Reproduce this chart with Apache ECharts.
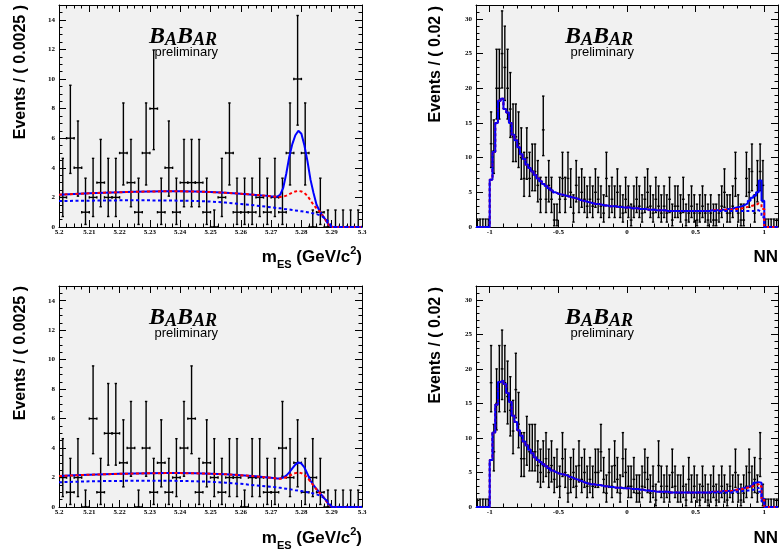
<!DOCTYPE html>
<html><head><meta charset="utf-8">
<script src="https://cdn.jsdelivr.net/npm/echarts@6/dist/echarts.min.js"></script>
<style>html,body{margin:0;padding:0;background:#fff}#c{width:780px;height:554px}</style>
</head><body><div id="c"></div>
<script>
// ================= DATA =================
// m_ES histograms (40 bins of 0.0025 GeV from 5.2)
const mesBinStart = 5.2, mesBinWidth = 0.0025;
const mesCountsTop    = [2,6,4,1,2,3,2,2,5,3,1,5,8,1,4,1,3,3,3,1, 0,2,5,1,1,1,2,1,2,1,5,10,5,0,1,0,0,0,0,0];
const mesCountsBottom = [2,1,2,0,6,1,5,5,3,4,0,4,1,3,1,2,4,6,1,3, 2,1,2,2,0,2,2,1,1,4,2,3,1,2,1,0,0,0,0,0];

// Poisson 68% interval bounds indexed by count
const poissonLow  = [0,0.173,0.708,1.367,2.086,2.840,3.620,4.417,5.228,6.050,6.882,7.724,8.573,9.430,10.29,11.16,12.03,12.91,13.79,14.67,15.56,16.45,17.34,18.24,19.14,20.04,20.94,21.85,22.75,23.66,24.58];
const poissonHigh = [1.148,3.300,4.638,5.918,7.163,8.382,9.577,10.77,11.96,13.12,14.29,15.44,16.59,17.73,18.87,20.00,21.13,22.26,23.38,24.50,25.62,26.73,27.84,28.95,30.05,31.15,32.25,33.35,34.44,35.53,36.62];

// m_ES fit curves (sample positions and read values)
const mesCurveX = [5.200,5.205,5.210,5.215,5.220,5.225,5.230,5.235,5.240,5.245,5.250,5.255,5.260,5.265,5.268,5.270,5.272,5.273,5.274,5.275,5.276,5.277,5.278,5.279,5.280,5.281,5.282,5.283,5.284,5.285,5.286,5.287,5.288,5.289,5.290,5.295,5.300];
const mesTotalTop = [2.18,2.23,2.28,2.32,2.35,2.38,2.40,2.41,2.41,2.40,2.36,2.31,2.25,2.17,2.12,2.08,2.05,2.18,2.65,3.60,4.75,5.60,6.20,6.50,6.30,5.50,4.45,3.20,2.30,1.50,1.08,0.78,0.48,0.15,0,0,0];
const mesBkgTop   = [2.18,2.23,2.28,2.32,2.35,2.38,2.40,2.41,2.41,2.40,2.36,2.31,2.25,2.17,2.12,2.08,2.03,2.03,2.05,2.12,2.22,2.32,2.40,2.44,2.40,2.30,2.10,1.80,1.50,1.25,1.05,0.78,0.48,0.15,0,0,0];
const mesContTop  = [1.75,1.77,1.78,1.79,1.80,1.80,1.80,1.79,1.78,1.76,1.72,1.65,1.56,1.45,1.38,1.33,1.28,1.26,1.23,1.20,1.18,1.15,1.12,1.09,1.06,1.03,1.00,0.96,0.92,0.87,0.80,0.70,0.55,0.35,0,0,0];
const mesTotalBottom = [2.10,2.15,2.19,2.22,2.25,2.27,2.29,2.30,2.30,2.29,2.26,2.22,2.16,2.08,2.02,1.98,1.93,1.93,2.00,2.13,2.35,2.62,2.88,3.03,2.95,2.68,2.25,1.80,1.48,1.22,0.98,0.74,0.48,0.18,0,0,0];
const mesBkgBottom   = [2.10,2.15,2.19,2.22,2.25,2.27,2.29,2.30,2.30,2.29,2.26,2.22,2.16,2.08,2.02,1.98,1.93,1.92,1.95,2.02,2.12,2.22,2.30,2.34,2.30,2.18,1.98,1.72,1.45,1.20,0.97,0.74,0.48,0.18,0,0,0];
const mesContBottom  = [1.68,1.71,1.74,1.76,1.77,1.78,1.78,1.78,1.77,1.75,1.71,1.65,1.57,1.47,1.41,1.37,1.33,1.30,1.27,1.24,1.21,1.18,1.14,1.11,1.08,1.04,1.00,0.96,0.92,0.86,0.78,0.68,0.52,0.32,0,0,0];

// NN histograms (110 bins of 0.02 from -1.1)
const nnBinStart = -1.1, nnBinWidth = 0.02;
const nnCountsTop = [0,0,0,0,0,
 12,11,20,20,25,23,20,17,13,13, 12,10,7,10,7,8,8,6,4,14,
 4,6,4,1,1,4,7,4,7,5, 2,6,4,5,4,3,4,3,5,4,
 3,2,7,3,4,3,5,3,2,4, 3,1,3,4,3,2,4,5,3,2,
 4,3,2,3,2,4,1,3,3,2, 4,1,2,3,2,1,2,3,2,1,
 2,1,1,2,3,5,2,2,3,7, 2,1,1,7,5,8,2,6,8,6,
 0,0,0,0,0];
const nnCountsBottom = [0,0,0,0,0,
 18,8,15,18,20,18,16,14,11,17, 12,7,7,9,8,8,8,6,5,6,
 7,5,6,4,5,3,7,5,2,4, 5,3,6,4,5,3,4,3,5,5,
 8,4,2,5,3,6,4,2,7,5, 3,3,4,2,2,3,5,4,2,3,
 1,6,3,2,3,2,5,3,2,2, 3,1,4,2,3,2,1,3,2,1,
 2,3,1,2,3,2,1,3,2,5, 2,1,2,3,5,3,4,2,7,1,
 0,0,0,0,0];

// NN fit projections (per bin)
const nnTotalTop = [0,0,0,0,0,
 6.8,10.8,15.0,18.2,18.5,17.0,16.5,15.0,13.3,12.5, 11.5,10.5,9.8,9.0,8.5,8.0,7.5,7.0,6.6,6.2,
 5.9,5.6,5.3,5.0,4.8,4.7,4.6,4.5,4.4,4.3, 4.2,4.1,3.9,3.8,3.7,3.6,3.5,3.4,3.3,3.3,
 3.2,3.1,3.1,3.0,3.0,3.0,2.9,2.9,2.8,2.8, 2.8,2.7,2.7,2.7,2.6,2.6,2.6,2.5,2.5,2.5,
 2.4,2.4,2.4,2.4,2.3,2.3,2.3,2.3,2.3,2.3, 2.3,2.3,2.3,2.3,2.3,2.3,2.3,2.3,2.3,2.3,
 2.4,2.4,2.4,2.4,2.5,2.5,2.6,2.6,2.7,2.8, 2.9,3.0,3.2,3.4,3.8,4.2,4.5,5.0,6.7,3.8,
 0,0,0,0,0];
const nnBkgTop = [0,0,0,0,0,
 6.8,10.8,15.0,18.2,18.5,17.0,16.5,15.0,13.3,12.5, 11.5,10.5,9.8,9.0,8.5,8.0,7.5,7.0,6.6,6.2,
 5.9,5.6,5.3,5.0,4.8,4.7,4.6,4.5,4.4,4.3, 4.2,4.1,3.9,3.8,3.7,3.6,3.5,3.4,3.3,3.3,
 3.2,3.1,3.1,3.0,3.0,3.0,2.9,2.9,2.8,2.8, 2.8,2.7,2.7,2.7,2.6,2.6,2.6,2.5,2.5,2.5,
 2.4,2.4,2.4,2.4,2.3,2.3,2.3,2.3,2.3,2.3, 2.3,2.3,2.3,2.3,2.3,2.3,2.3,2.3,2.3,2.3,
 2.4,2.4,2.4,2.4,2.5,2.5,2.5,2.5,2.6,2.6, 2.6,2.7,2.8,2.9,3.0,3.1,3.2,3.4,3.3,2.6,
 0,0,0,0,0];
const nnContTop = [0,0,0,0,0,
 6.8,10.8,15.0,18.2,18.5,17.0,16.5,15.0,13.3,12.5, 11.5,10.5,9.8,9.0,8.5,8.0,7.5,7.0,6.6,6.2,
 5.9,5.6,5.3,5.0,4.8,4.7,4.6,4.5,4.4,4.3, 4.2,4.1,3.9,3.8,3.7,3.6,3.5,3.4,3.3,3.3,
 3.2,3.1,3.1,3.0,3.0,3.0,2.9,2.9,2.8,2.8, 2.8,2.7,2.7,2.7,2.6,2.6,2.6,2.5,2.5,2.5,
 2.4,2.4,2.4,2.4,2.3,2.3,2.3,2.3,2.3,2.3, 2.3,2.3,2.3,2.3,2.3,2.3,2.3,2.3,2.3,2.3,
 2.3,2.3,2.3,2.3,2.3,2.3,2.3,2.3,2.3,2.3, 2.3,2.3,2.3,2.3,2.3,2.3,2.4,2.4,2.2,1.4,
 0,0,0,0,0];
const nnTotalBottom = [0,0,0,0,0,
 6.8,10.8,14.8,18.1,18.3,17.8,16.5,15.2,13.2,12.3, 11.1,10.3,9.5,8.9,8.3,7.8,7.2,6.8,6.5,6.2,
 5.9,5.6,5.3,5.1,4.9,4.8,4.7,4.6,4.4,4.3, 4.1,4.0,3.8,3.7,3.5,3.4,3.3,3.3,3.2,3.2,
 3.1,3.0,3.0,2.9,2.9,2.8,2.8,2.8,2.7,2.7, 2.7,2.6,2.6,2.6,2.5,2.5,2.4,2.4,2.3,2.3,
 2.2,2.2,2.2,2.2,2.2,2.1,2.1,2.1,2.1,2.1, 2.1,2.1,2.1,2.1,2.1,2.1,2.1,2.1,2.1,2.1,
 2.2,2.2,2.2,2.2,2.3,2.3,2.3,2.3,2.4,2.5, 2.6,2.7,2.8,2.9,3.0,3.2,3.5,3.6,3.5,1.2,
 0,0,0,0,0];
const nnBkgBottom = [0,0,0,0,0,
 6.8,10.8,14.8,18.1,18.3,17.8,16.5,15.2,13.2,12.3, 11.1,10.3,9.5,8.9,8.3,7.8,7.2,6.8,6.5,6.2,
 5.9,5.6,5.3,5.1,4.9,4.8,4.7,4.6,4.4,4.3, 4.1,4.0,3.8,3.7,3.5,3.4,3.3,3.3,3.2,3.2,
 3.1,3.0,3.0,2.9,2.9,2.8,2.8,2.8,2.7,2.7, 2.7,2.6,2.6,2.6,2.5,2.5,2.4,2.4,2.3,2.3,
 2.2,2.2,2.2,2.2,2.2,2.1,2.1,2.1,2.1,2.1, 2.1,2.1,2.1,2.1,2.1,2.1,2.1,2.1,2.1,2.1,
 2.2,2.2,2.2,2.2,2.3,2.3,2.3,2.3,2.4,2.5, 2.5,2.6,2.7,2.8,2.9,3.0,3.2,3.3,3.0,1.0,
 0,0,0,0,0];
const nnContBottom = [0,0,0,0,0,
 6.8,10.8,14.8,18.1,18.3,17.8,16.5,15.2,13.2,12.3, 11.1,10.3,9.5,8.9,8.3,7.8,7.2,6.8,6.5,6.2,
 5.9,5.6,5.3,5.1,4.9,4.8,4.7,4.6,4.4,4.3, 4.1,4.0,3.8,3.7,3.5,3.4,3.3,3.3,3.2,3.2,
 3.1,3.0,3.0,2.9,2.9,2.8,2.8,2.8,2.7,2.7, 2.7,2.6,2.6,2.6,2.5,2.5,2.4,2.4,2.3,2.3,
 2.2,2.2,2.2,2.2,2.2,2.1,2.1,2.1,2.1,2.1, 2.1,2.1,2.1,2.1,2.1,2.1,2.1,2.1,2.1,2.1,
 2.1,2.1,2.1,2.1,2.1,2.1,2.1,2.1,2.2,2.2, 2.2,2.3,2.3,2.4,2.4,2.5,2.6,2.8,2.2,0.8,
 0,0,0,0,0];

// tick labels
const mesXTicks = [5.2,5.21,5.22,5.23,5.24,5.25,5.26,5.27,5.28,5.29,5.3];
const mesYTicks = [0,2,4,6,8,10,12,14];
const nnXTicks = [-1,-0.5,0,0.5,1];
const nnYTicks = [0,5,10,15,20,25,30];

// ================= BUILD =================
const W = 780;
function steps(lo, hi, step) { const a = []; const n = Math.round((hi - lo) / step); for (let i = 0; i <= n; i++) a.push(+(lo + i * step).toFixed(6)); return a; }
const mesXMinor = steps(5.2, 5.3, 0.0025);
const mesYMinor = steps(0, 15, 0.5);
const nnXMinor = steps(-1.1, 1.1, 0.1);
const nnYMinor = steps(0, 32, 1);

const grids = [
  {left: 59, top: 5, width: 303, height: 222},
  {left: 476, top: 5, width: 302, height: 222},
  {left: 59, top: 286, width: 303, height: 221},
  {left: 476, top: 286, width: 302, height: 221}
];
const xAxes = [], yAxes = [];
const labelFont = {fontFamily: '"Liberation Serif"', fontWeight: 'bold', fontSize: 7, color: '#000'};
function fmt(v) { return String(+(+v).toFixed(4)); }
function axisPair(list, gi, pos, range, major, minor, isX, showLabel) {
  const base = {type: 'value', gridIndex: gi, min: range[0], max: range[1], position: pos, splitLine: {show: false}, scale: true};
  list.push(Object.assign({}, base, {
    axisLine: {show: true, onZero: false, lineStyle: {color: '#000', width: 1}},
    axisTick: {show: true, inside: true, length: 7, customValues: major, lineStyle: {color: '#000', width: 1}},
    axisLabel: showLabel ? Object.assign({show: true, customValues: major, formatter: fmt, margin: isX ? 2 : 4, hideOverlap: false}, labelFont) : {show: false},
    minorTick: {show: false}
  }));
  const idx = list.length - 1;
  list.push(Object.assign({}, base, {
    axisLine: {show: false, onZero: false},
    axisTick: {show: true, inside: true, length: 3.5, customValues: minor, lineStyle: {color: '#000', width: 1}},
    axisLabel: {show: false}
  }));
  return idx;
}
function buildAxes(gi, xr, yr, xMaj, xMin, yMaj, yMin) {
  const xi = axisPair(xAxes, gi, 'bottom', xr, xMaj, xMin, true, true);
  axisPair(xAxes, gi, 'top', xr, xMaj, xMin, true, false);
  const yi = axisPair(yAxes, gi, 'left', yr, yMaj, yMin, false, true);
  axisPair(yAxes, gi, 'right', yr, yMaj, yMin, false, false);
  return {xi, yi};
}
const ax = [
  buildAxes(0, [5.2, 5.3], [0, 15], mesXTicks, mesXMinor, mesYTicks, mesYMinor),
  buildAxes(1, [-1.1, 1.1], [0, 32], nnXTicks, nnXMinor, nnYTicks, nnYMinor),
  buildAxes(2, [5.2, 5.3], [0, 15], mesXTicks, mesXMinor, mesYTicks, mesYMinor),
  buildAxes(3, [-1.1, 1.1], [0, 32], nnXTicks, nnXMinor, nnYTicks, nnYMinor)
];

function errData(counts, start, w) {
  return counts.map((n, i) => [start + (i + 0.5) * w, n, poissonLow[n], poissonHigh[n], w]);
}
function renderErr(params, api) {
  const x = api.value(0), n = api.value(1), lo = api.value(2), hi = api.value(3), w = api.value(4);
  const c = api.coord([x, n]);
  const l = api.coord([x - w / 2, n]);
  const r = api.coord([x + w / 2, n]);
  const t = api.coord([x, hi]);
  const b = api.coord([x, lo]);
  const st = {stroke: '#000', lineWidth: 1.4};
  const cp = 1.2;
  const kids = [
    {type: 'line', shape: {x1: c[0], y1: b[1], x2: c[0], y2: t[1]}, style: st},
    {type: 'line', shape: {x1: l[0], y1: c[1], x2: r[0], y2: c[1]}, style: st},
    {type: 'line', shape: {x1: c[0] - cp, y1: t[1], x2: c[0] + cp, y2: t[1]}, style: st},
    {type: 'line', shape: {x1: c[0] - cp, y1: b[1], x2: c[0] + cp, y2: b[1]}, style: st}
  ];
  if (r[0] - l[0] > 5) {
    kids.push({type: 'line', shape: {x1: l[0], y1: c[1] - cp, x2: l[0], y2: c[1] + cp}, style: st});
    kids.push({type: 'line', shape: {x1: r[0], y1: c[1] - cp, x2: r[0], y2: c[1] + cp}, style: st});
  }
  return {type: 'group', children: kids};
}
function errSeries(a, counts, start, w) {
  return {type: 'custom', xAxisIndex: a.xi, yAxisIndex: a.yi, data: errData(counts, start, w), renderItem: renderErr, clip: true, z: 2, silent: true};
}
function curve(a, xs, ys, color, dashed, z) {
  return {type: 'line', xAxisIndex: a.xi, yAxisIndex: a.yi, data: xs.map((x, i) => [x, ys[i]]), showSymbol: false, symbol: 'none', clip: true, z: z, silent: true,
    lineStyle: {color: color, width: 2, type: dashed ? [3, 2.5] : 'solid'}};
}
function stepCurve(a, vals, color, dashed, z) {
  const pts = vals.map((v, i) => [+(nnBinStart + i * nnBinWidth).toFixed(4), v]);
  pts.push([+(nnBinStart + vals.length * nnBinWidth).toFixed(4), vals[vals.length - 1]]);
  return {type: 'line', step: 'end', xAxisIndex: a.xi, yAxisIndex: a.yi, data: pts, showSymbol: false, symbol: 'none', clip: true, z: z, silent: true,
    lineStyle: {color: color, width: 2, type: dashed ? [3, 2.5] : 'solid'}};
}

const series = [
  errSeries(ax[0], mesCountsTop, mesBinStart, mesBinWidth),
  curve(ax[0], mesCurveX, mesTotalTop, '#0000ff', false, 3),
  curve(ax[0], mesCurveX, mesBkgTop, '#ff0000', true, 4),
  curve(ax[0], mesCurveX, mesContTop, '#0000ff', true, 4),
  errSeries(ax[1], nnCountsTop, nnBinStart, nnBinWidth),
  stepCurve(ax[1], nnTotalTop, '#0000ff', false, 3),
  stepCurve(ax[1], nnBkgTop, '#ff0000', true, 4),
  stepCurve(ax[1], nnContTop, '#0000ff', true, 4),
  errSeries(ax[2], mesCountsBottom, mesBinStart, mesBinWidth),
  curve(ax[2], mesCurveX, mesTotalBottom, '#0000ff', false, 3),
  curve(ax[2], mesCurveX, mesBkgBottom, '#ff0000', true, 4),
  curve(ax[2], mesCurveX, mesContBottom, '#0000ff', true, 4),
  errSeries(ax[3], nnCountsBottom, nnBinStart, nnBinWidth),
  stepCurve(ax[3], nnTotalBottom, '#0000ff', false, 3),
  stepCurve(ax[3], nnBkgBottom, '#ff0000', true, 4),
  stepCurve(ax[3], nnContBottom, '#0000ff', true, 4)
];

// titles: logos and x-axis titles
const serifBI = {fontFamily: '"Liberation Serif"', fontStyle: 'italic', fontWeight: 'bold', color: '#000'};
const sans = '"Liberation Sans"';
function logo(rightEdge, top) {
  return [
    {text: '{B|B}{a|A}{B|B}{a|AR}', right: W - rightEdge, top: top, padding: 0, itemGap: 0,
      textStyle: {rich: {
        B: Object.assign({fontSize: 24, lineHeight: 24, verticalAlign: 'bottom'}, serifBI),
        a: Object.assign({fontSize: 18, lineHeight: 18, verticalAlign: 'bottom'}, serifBI)}}},
    {text: 'preliminary', right: W - rightEdge - 1, top: top + 21, padding: 0,
      textStyle: {fontFamily: sans, fontWeight: 'normal', fontSize: 13, lineHeight: 13, color: '#000'}}
  ];
}
const xtRich = {
  m: {fontFamily: sans, fontWeight: 'bold', fontSize: 17, lineHeight: 30, color: '#000'},
  s: {fontFamily: sans, fontWeight: 'bold', fontSize: 11, verticalAlign: 'middle', padding: [16, 0, 0, 0], color: '#000'},
  p: {fontFamily: sans, fontWeight: 'bold', fontSize: 11, verticalAlign: 'middle', padding: [0, 0, 13, 0], color: '#000'}
};
function xTitle(text, rightEdge, top) {
  return {text: text, right: W - rightEdge, top: top, padding: 0, textStyle: {rich: xtRich}};
}
const titles = [].concat(
  logo(217, 25), logo(633, 25), logo(217, 306), logo(633, 306),
  [xTitle('{m|m}{s|ES}{m| (GeV/c}{p|2}{m|)}', 362, 242), xTitle('{m|NN}', 778, 242),
   xTitle('{m|m}{s|ES}{m| (GeV/c}{p|2}{m|)}', 362, 523), xTitle('{m|NN}', 778, 523)]
);

function yTitle(text, x, y) {
  return {type: 'text', x: x, y: y, rotation: Math.PI / 2, silent: true,
    style: {text: text, font: 'bold 16px "Liberation Sans"', fill: '#000', align: 'right', verticalAlign: 'middle', textAlign: 'right', textVerticalAlign: 'middle'}};
}

const chart = echarts.init(document.getElementById('c'), null, {renderer: 'canvas'});
chart.setOption({
  animation: false,
  backgroundColor: '#ffffff',
  grid: grids.map(g => Object.assign({show: true, backgroundColor: '#f1f1f1', borderWidth: 0, containLabel: false}, g)),
  xAxis: xAxes,
  yAxis: yAxes,
  title: titles,
  series: series,
  graphic: [
    yTitle('Events / ( 0.0025 )', 21, 5),
    yTitle('Events / ( 0.02 )', 436, 6),
    yTitle('Events / ( 0.0025 )', 21, 286),
    yTitle('Events / ( 0.02 )', 436, 287)
  ]
});
</script></body></html>
